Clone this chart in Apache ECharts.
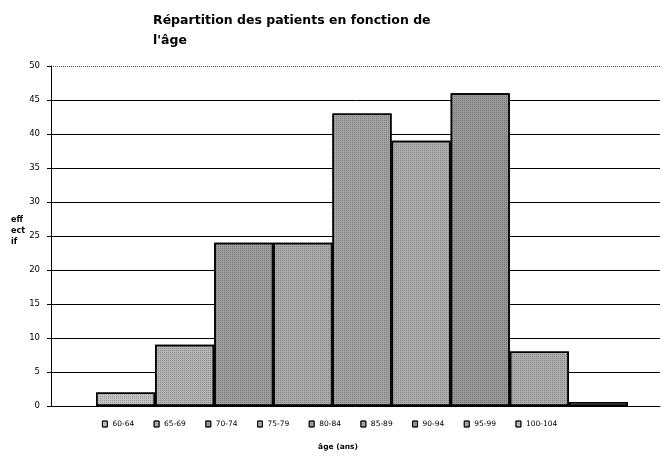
<!DOCTYPE html>
<html>
<head>
<meta charset="utf-8">
<script src="https://cdn.jsdelivr.net/npm/echarts@6/dist/echarts.min.js"></script>
<style>
  html, body { margin: 0; padding: 0; background: #fff; }
  #chart { width: 662px; height: 459px; }
</style>
</head>
<body>
<div id="chart"></div>
<script>
const ageGroups = ['60-64', '65-69', '70-74', '75-79', '80-84', '85-89', '90-94', '95-99', '100-104'];
const effectif = [2, 9, 24, 24, 43, 39, 46, 8, 0.6];
const yTicks = [0, 50, 5];

const FONT = '"DejaVu Sans", Verdana, sans-serif';
const BAR_COLORS = ['#c4c4c4', '#b4b4b4', '#9e9e9e', '#aaaaaa', '#a3a3a3', '#acacac', '#989898', '#adadad', '#c0c0c0'];

const chart = echarts.init(document.getElementById('chart'), null, { renderer: 'canvas' });

// dithered fill, like the scanned Excel pattern fills
const DITHER = {
  symbol: 'rect',
  symbolSize: 1,
  color: 'rgba(0,0,0,0.22)',
  dashArrayX: [1, 1],
  dashArrayY: [1, 1],
  rotation: 0
};

// one series per age group, so each gets its own legend entry (like the Excel original)
const series = ageGroups.map((name, i) => ({
  name,
  type: 'bar',
  xAxisIndex: 1,
  yAxisIndex: 1,
  stack: 'all',
  barCategoryGap: '0%',
  itemStyle: { color: BAR_COLORS[i], borderColor: '#000', borderWidth: 1.5, decal: DITHER },
  data: ageGroups.map((_, j) => (j === i ? effectif[i] : '-'))
}));

chart.setOption({
  animation: false,
  textStyle: { fontFamily: FONT },
  title: [
    {
      text: 'Répartition des patients en fonction de\nl\'âge',
      left: 153,
      top: 11,
      padding: 0,
      textStyle: { fontFamily: FONT, fontWeight: 'bold', fontSize: 12.5, lineHeight: 20, color: '#000' }
    },
    {
      text: 'âge (ans)',
      left: 338,
      top: 443,
      padding: 0,
      textAlign: 'center',
      textStyle: { fontFamily: FONT, fontWeight: 'bold', fontSize: 7.5, color: '#000' }
    },
    {
      text: 'eff\nect\nif',
      left: 11,
      top: 214,
      padding: 0,
      textStyle: { fontFamily: FONT, fontWeight: 'bold', fontSize: 8, lineHeight: 11, color: '#000' }
    }
  ],
  legend: {
    left: 102,
    top: 420,
    padding: 0,
    itemGap: 19.5,
    itemWidth: 5,
    itemHeight: 6,
    icon: 'rect',
    itemStyle: { borderColor: '#000', borderWidth: 0.8 },
    textStyle: { fontFamily: FONT, fontSize: 7.5, color: '#000' },
    data: ageGroups
  },
  grid: [
    { left: 51, right: 2, top: 66, bottom: 53 },
    { left: 96, right: 34, top: 66, bottom: 53 }
  ],
  xAxis: [
    {
      gridIndex: 0, type: 'value', min: 0, max: 1,
      axisLine: { show: true, lineStyle: { color: '#000', width: 1 } },
      axisTick: { show: false }, axisLabel: { show: false }, splitLine: { show: false }
    },
    {
      gridIndex: 1, type: 'category', data: ageGroups,
      axisLine: { show: false }, axisTick: { show: false }, axisLabel: { show: false }
    }
  ],
  yAxis: [
    {
      gridIndex: 0, type: 'value', min: yTicks[0], max: yTicks[1], interval: yTicks[2],
      axisLine: { show: true, lineStyle: { color: '#000', width: 1 } },
      axisTick: { show: true, inside: false, length: 4, lineStyle: { color: '#000' } },
      axisLabel: { color: '#000', fontSize: 8.5, fontFamily: FONT, margin: 11 },
      splitLine: { show: true, showMaxLine: false, showMinLine: false, lineStyle: { color: '#000', width: 1 } }
    },
    {
      gridIndex: 1, type: 'value', min: yTicks[0], max: yTicks[1],
      axisLine: { show: false }, axisTick: { show: false }, axisLabel: { show: false }, splitLine: { show: false }
    },
    {
      // dotted top border of the plot area
      gridIndex: 0, type: 'value', min: yTicks[0], max: yTicks[1], interval: yTicks[1], position: 'right',
      axisLine: { show: false }, axisTick: { show: false }, axisLabel: { show: false },
      splitLine: { show: true, showMinLine: false, lineStyle: { color: '#555', width: 1, type: [1, 1] } }
    }
  ],
  series
});
</script>
</body>
</html>
